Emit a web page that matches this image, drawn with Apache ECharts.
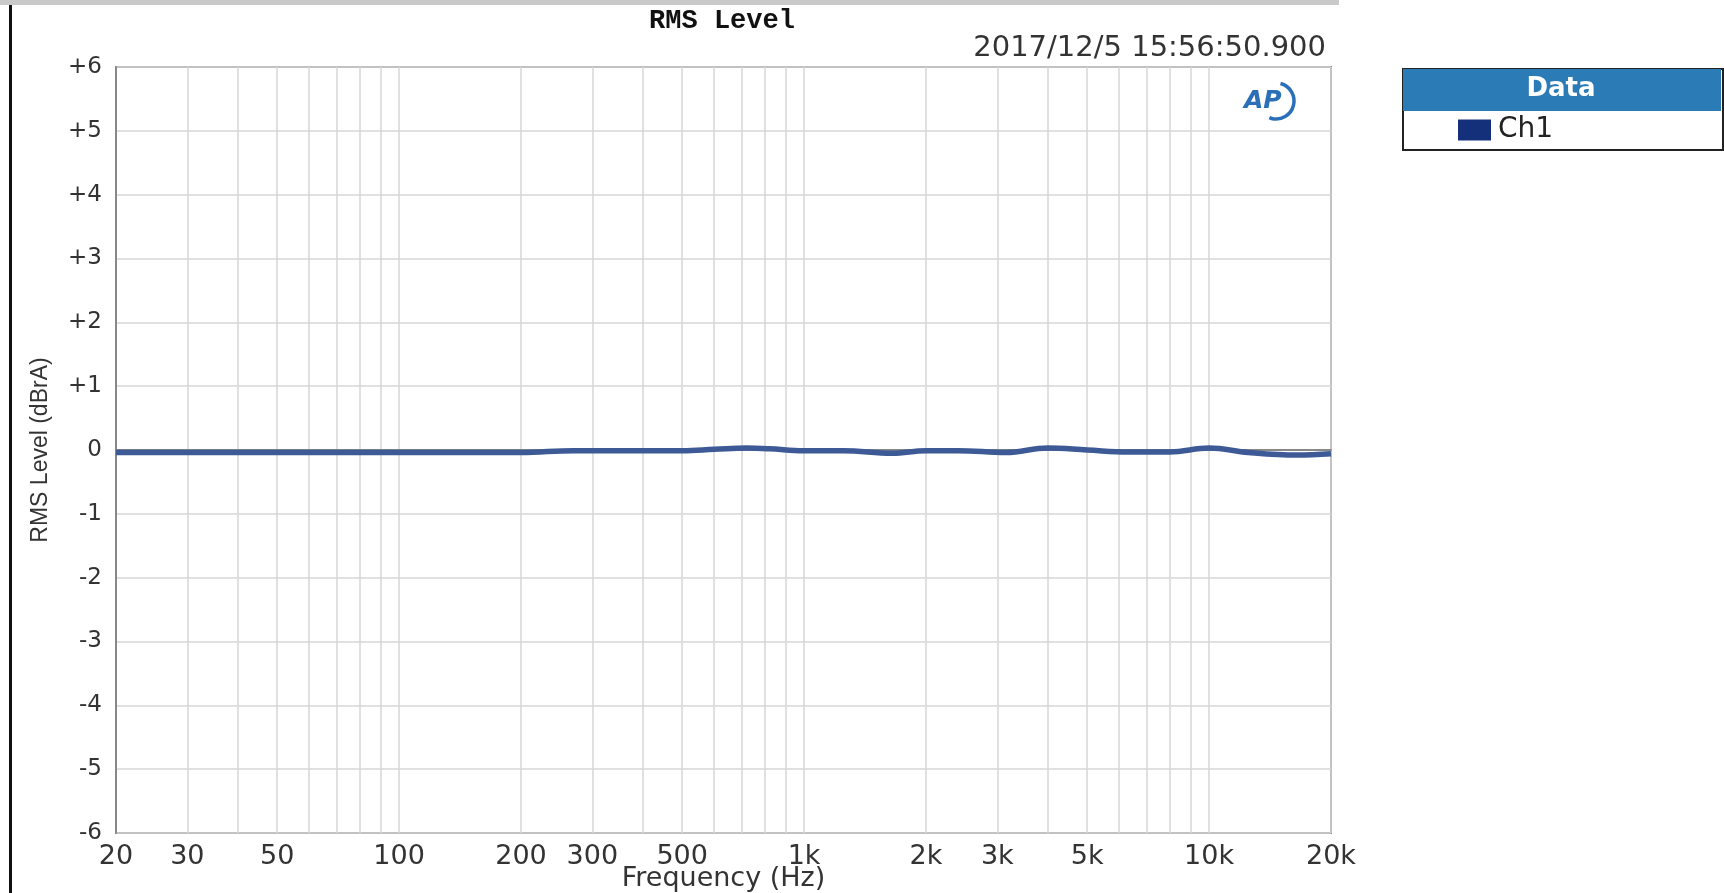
<!DOCTYPE html>
<html>
<head>
<meta charset="utf-8">
<script src="https://cdn.jsdelivr.net/npm/echarts@6/dist/echarts.min.js"></script>
<style>
html,body{margin:0;padding:0;background:#fff;}
#chart{width:1724px;height:893px;}
</style>
</head>
<body>
<div id="chart"></div>
<script>
// Data
const freqs = [20, 50, 100, 200, 270, 300, 400, 500, 600, 720, 820, 1000, 1250, 1650, 2000, 2400, 3150, 4000, 5000, 6300, 8000, 10000, 12500, 16500, 20000];
const levels = [-0.04, -0.04, -0.04, -0.04, -0.01, -0.01, -0.01, -0.01, 0.01, 0.03, 0.02, -0.01, -0.01, -0.05, -0.01, -0.01, -0.04, 0.03, 0.0, -0.03, -0.03, 0.03, -0.04, -0.08, -0.06];
const gridFreqs = [20,30,40,50,60,70,80,90,100,200,300,400,500,600,700,800,900,1000,2000,3000,4000,5000,6000,7000,8000,9000,10000,20000];
const labelFreqs = [20,30,50,100,200,300,500,1000,2000,3000,5000,10000,20000];
const titleText = 'RMS Level';
const timestamp = '2017/12/5 15:56:50.900';
const seriesName = 'Ch1';

const chart = echarts.init(document.getElementById('chart'));
const fmtF = v => v >= 1000 ? (v/1000) + 'k' : String(v);
const FONT = 'DejaVu Sans';

chart.setOption({
  animation: false,
  backgroundColor: '#fff',
  grid: { left: 116, right: 393, top: 67, bottom: 60, outerBoundsMode: 'none', containLabel: false, show: true, borderColor: '#888', borderWidth: 2, backgroundColor: '#fff' },
  title: {
    text: titleText, left: 717, top: 3, textAlign: 'center',
    textStyle: { fontFamily: 'Liberation Mono', fontWeight: 'bold', fontSize: 27, color: '#111' }
  },
  legend: {
    data: [seriesName], left: 1453, top: 111, itemWidth: 33, itemHeight: 21, icon: 'rect',
    textStyle: { fontFamily: FONT, fontSize: 28, color: '#222', padding: [0, 0, 0, 2] }, itemGap: 4,
    selectedMode: false
  },
  xAxis: {
    type: 'log', logBase: 10, min: 20, max: 20000,
    name: 'Frequency (Hz)', nameLocation: 'middle', nameGap: 32, nameMoveOverlap: false,
    nameTextStyle: { fontFamily: FONT, fontSize: 27, color: '#333' },
    axisLine: { show: true, lineStyle: { color: '#888', width: 2 } },
    axisTick: { show: false, customValues: gridFreqs },
    minorTick: { show: false },
    splitLine: { show: true, lineStyle: { color: '#d6d6d6', width: 1.5 } },
    minorSplitLine: { show: false },
    axisLabel: {
      customValues: labelFreqs, formatter: fmtF, margin: 10,
      fontFamily: FONT, fontSize: 27, color: '#333'
    }
  },
  yAxis: {
    type: 'value', min: -6, max: 6, interval: 1,
    name: 'RMS Level (dBrA)', nameLocation: 'middle', nameGap: 64, nameMoveOverlap: false,
    nameTextStyle: { fontFamily: 'Liberation Sans Narrow, Liberation Sans', fontSize: 23, color: '#333' },
    axisLine: { show: true, lineStyle: { color: '#888', width: 2 } },
    axisTick: { show: false },
    splitLine: { show: true, lineStyle: { color: '#d6d6d6', width: 1.5 } },
    axisLabel: {
      formatter: v => v > 0 ? '+' + v : String(v), margin: 14,
      fontFamily: FONT, fontSize: 23, color: '#333'
    }
  },
  series: [{
    name: seriesName, type: 'line', smooth: 0.4, showSymbol: false,
    data: freqs.map((f, i) => [f, levels[i]]),
    lineStyle: { color: '#3d5a96', width: 5.5 },
    itemStyle: { color: '#15307a' }
  }],
  graphic: [
    { type: 'rect', left: 0, top: 0, shape: { width: 1339, height: 5 }, style: { fill: '#c9c9c9' }, silent: true },
    { type: 'rect', left: 9, top: 5, shape: { width: 3, height: 888 }, style: { fill: '#111' }, silent: true },
    { type: 'text', x: 1326, y: 48, style: { text: timestamp, fontFamily: FONT, fontSize: 29, fill: '#333', align: 'right', verticalAlign: 'middle' }, silent: true },
    // legend box
    { type: 'rect', left: 1402, top: 68, shape: { width: 320, height: 81 }, style: { fill: '#fff', stroke: '#222', lineWidth: 2 }, z: -1, silent: true },
    { type: 'rect', left: 1403, top: 69, shape: { width: 318, height: 42 }, style: { fill: '#2b7cb6' }, silent: true },
    { type: 'text', x: 1561, y: 89, style: { text: 'Data', fontFamily: FONT, fontWeight: 'bold', fontSize: 26, fill: '#fff', align: 'center', verticalAlign: 'middle' }, silent: true },
    // AP logo
    { type: 'text', x: 1244, y: 101, style: { text: 'AP', fontFamily: FONT, fontStyle: 'italic', fontWeight: 'bold', fontSize: 25, fill: '#2a6fb8', verticalAlign: 'middle' }, silent: true },
    { type: 'arc', shape: { cx: 1276, cy: 101, r: 18, startAngle: -Math.PI * 0.42, endAngle: Math.PI * 0.62 }, style: { stroke: '#2a6fb8', lineWidth: 3.5, fill: null }, silent: true }
  ]
});
</script>
</body>
</html>
